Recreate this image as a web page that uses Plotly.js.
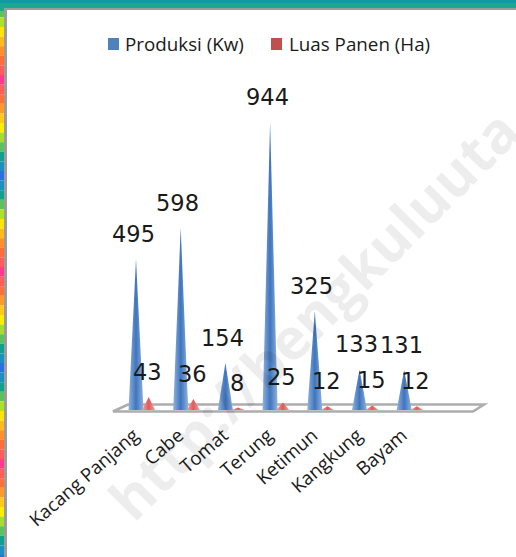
<!DOCTYPE html>
<html><head><meta charset="utf-8">
<script src="https://cdn.plot.ly/plotly-3.0.1.min.js"></script>
<style>html,body{margin:0;padding:0;background:#fff}#c{width:516px;height:557px}
.scatterlayer{filter:blur(.6px)}</style></head>
<body><div id="c"></div>
<script>
const categories = ["Kacang Panjang","Cabe","Tomat","Terung","Ketimun","Kangkung","Bayam"];
const produksi = [495,598,154,944,325,133,131];
const luasPanen = [43,36,8,25,12,15,12];
const seriesNames = ["Produksi (Kw)","Luas Panen (Ha)"];
const stripColors = ["#ffe600","#ffbb1a","#ff8f2a","#ff6f3a","#ff5c5c","#ff3a8c","#ff5c5c","#ff6f3a","#ff9a2a","#ffc81a","#ffee00","#a8dc2e","#5cc25c","#10a090","#1a8fc0","#2a70e0","#1a8fc0","#10a090","#5cc25c","#b0e020"];

const W=516,H=557,BASE=410,PXY=0.305,X0=136,DX=44.7;
const px=v=>v/W, py=v=>1-v/H;
const traces=[], annotations=[], shapes=[];
function cone(i,val,off,hw,edge,mid,name){
  const c=i+off/DX,h=hw/DX;
  traces.push({type:'scatter',mode:'lines',x:[c-h,c,c+h,c-h],y:[0,val,0,0],fill:'toself',
    line:{width:0,color:mid},showlegend:false,hoverinfo:'skip',name:name,
    fillgradient:{type:'horizontal',colorscale:[[0,edge],[0.5,mid],[1,edge]]}});
}
function lab(i,val,off,shift,dy){
  annotations.push({x:i+off/DX,y:val,xref:'x',yref:'y',text:String(val),showarrow:false,
    xanchor:'center',yanchor:'middle',yshift:dy,xshift:shift,
    font:{family:'DejaVu Sans',size:22.5,color:'#1a1a1a'}});
}
categories.forEach((c,i)=>{
  cone(i,produksi[i],0,7.5,'#8fb2de','#3f75bd',seriesNames[0]);
  cone(i,luasPanen[i],12.7,6.5,'#f3a3a3','#e4585a',seriesNames[1]);
  lab(i,produksi[i],0,-3,25);
  lab(i,luasPanen[i],12.7,-1,25);
});
// floor
shapes.push({type:'path',xref:'paper',yref:'paper',layer:'below',
  path:`M ${px(128)} ${py(404.5)} L ${px(484)} ${py(404.5)} L ${px(473)} ${py(411.5)} L ${px(113)} ${py(411.5)} Z`,
  line:{color:'#adadad',width:2.6},fillcolor:'#fff'});
// frame
const rect=(x0,y0,x1,y1,col)=>shapes.push({type:'rect',xref:'paper',yref:'paper',x0:px(x0),x1:px(x1),y0:py(y0),y1:py(y1),fillcolor:col,line:{width:0},layer:'above'});
const BL=9.6;
for(let k=0;k<60;k++){const y=27+ (k-3)*BL; rect(0,y,4,y+BL,stripColors[(k-3+60)%20]);}
rect(4,8,7,H,'#9c9c9c');
rect(4,8,W,10,'#9c9c9c');
rect(0,0,W,3,'#0f98a8');
rect(0,3,W,8,'#1aa98e');
rect(0,8,4,11,'#1aa98e');
// legend
rect(108,38,119,50,'#4f81bd'); rect(271,38,282,50,'#c0504d');
const legendText=(x,t)=>annotations.push({x:px(x),y:py(44),xref:'paper',yref:'paper',text:t,showarrow:false,xanchor:'left',yanchor:'middle',font:{family:'Open Sans',size:18.8,color:'#1a1a1a'}});
legendText(123,seriesNames[0]); legendText(287,seriesNames[1]);
// watermark
annotations.push({x:px(313),y:py(314),xref:'paper',yref:'paper',text:'http://bengkuluuta',showarrow:false,textangle:-45,
  xanchor:'center',yanchor:'middle',font:{family:'Open Sans',size:57,weight:700,color:'rgba(0,0,0,0.07)'}});

Plotly.newPlot('c',traces,{
  width:W,height:H,margin:{l:0,r:0,t:0,b:0},paper_bgcolor:'#fff',plot_bgcolor:'rgba(0,0,0,0)',showlegend:false,
  xaxis:{range:[(0-X0)/DX,(W-X0)/DX],tickmode:'array',tickvals:categories.map((c,i)=>i),ticktext:categories,tickangle:-41,
    showgrid:false,zeroline:false,showline:false,ticks:'',anchor:'free',position:(H-BASE)/H,ticklabelstandoff:10,ticklabelshift:-2,
    tickfont:{family:'Open Sans',size:18.7,color:'#1a1a1a'}},
  yaxis:{range:[-(H-BASE)/PXY,BASE/PXY],visible:false,fixedrange:true},
  shapes:shapes,annotations:annotations
},{staticPlot:true,displayModeBar:false});
</script></body></html>
